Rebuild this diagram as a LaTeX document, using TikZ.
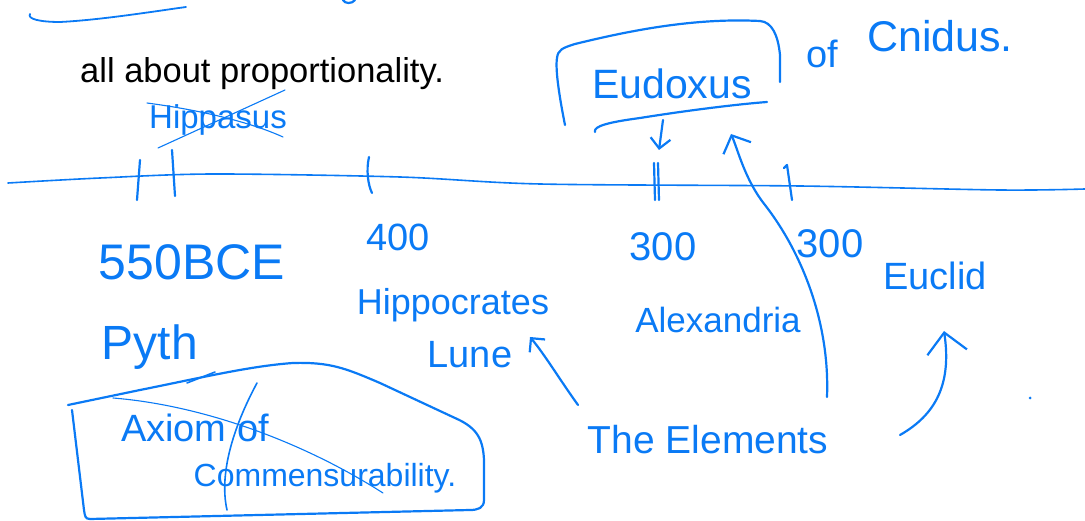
\documentclass[tikz,border=0pt]{standalone}
\usepackage{fontspec}
\setmainfont{Liberation Sans}
\usetikzlibrary{arrows.meta}
\definecolor{inkblue}{HTML}{0A7AF5}
\newcommand{\hwsize}[1]{\fontsize{#1}{#1}\selectfont}
\begin{document}
\begin{tikzpicture}[x=1pt,y=-1pt,
  ink/.style={draw=inkblue,line width=2.2pt,line cap=round,line join=round},
  thinink/.style={draw=inkblue,line width=1.1pt,line cap=round},
  hw/.style={text=inkblue,inner sep=0pt,anchor=center},
  barbS/.style={-{Straight Barb[length=10pt,width=20pt,line width=2.2pt]}},
  barbL/.style={-{Straight Barb[length=20pt,width=40pt,line width=2.2pt]}}
]
\useasboundingbox (0,0) rectangle (1085,521);

% stray strokes at the top
\draw[ink,line width=1.8pt] (30,14) .. controls (27,19) and (40,22) .. (60,22) .. controls (100,20) and (150,12) .. (186,7);
\draw[ink] (343,0) .. controls (345,4) and (352,4) .. (355,0);

% printed text
\node[font=\hwsize{34.5},anchor=base west,inner sep=0pt] (title) at (80,83) {all about proportionality.};

% crossed-out Hippasus
\node[hw,font=\hwsize{33}] (hippasus) at (218,120) {Hippasus};
\draw[thinink] (158,148) -- (285,90);
\draw[thinink] (147,103) .. controls (200,110) and (250,122) .. (283,137);

% timeline
\draw[ink,line width=1.6pt] plot[smooth] coordinates {(8,183) (100,178) (213,174) (400,177) (540,184) (800,186) (1000,190) (1085,189)};

% ticks
\coordinate (tickA) at (140,160);
\coordinate (tickB) at (172,150);
\coordinate (tickC) at (369,157);
\coordinate (tickE) at (659,150);
\coordinate (tickF) at (787,165);
\draw[ink] (tickA) -- (137,200);
\draw[ink] (tickB) -- (175,196);
\draw[ink] (tickC) .. controls (366,170) and (368,185) .. (372,193);
\draw[ink] (654,163) -- (655,200);
\draw[ink] (658,163) -- (659,200);
\draw[ink] (784,168) -- (tickF) -- (792,200);

% handwritten labels
\node[hw,font=\hwsize{50}] (bce) at (192,262) {550BCE};
\node[hw,font=\hwsize{48}] (pyth) at (150,347) {Pyth};
\node[hw,font=\hwsize{38}] (y400) at (398,237) {400};
\node[hw,font=\hwsize{36}] (hippocrates) at (453,305) {Hippocrates};
\node[hw,font=\hwsize{38}] (lune) at (470,355) {Lune};
\node[hw,font=\hwsize{40}] (y300a) at (663,247) {300};
\node[hw,font=\hwsize{40}] (y300b) at (830,244) {300};
\node[hw,font=\hwsize{35}] (alex) at (718,320) {Alexandria};
\node[hw,font=\hwsize{38}] (euclid) at (935,276) {Euclid};
\node[hw,font=\hwsize{39}] (elements) at (708,440) {The Elements};
\node[hw,font=\hwsize{41}] (eudoxus) at (672,84) {Eudoxus};
\node[hw,font=\hwsize{38}] (of) at (822,54) {of};
\node[hw,font=\hwsize{43}] (cnidus) at (940,36) {Cnidus.};
\node[hw,font=\hwsize{38}] (axiom) at (195,428) {Axiom of};
\node[hw,font=\hwsize{32}] (commens) at (325,478) {Commensurability.};

% Eudoxus frame and underline
\draw[ink] (565,125) .. controls (560,100) and (555,70) .. (557,58) .. controls (558,50) and (562,48) .. (575,44) .. controls (640,28) and (700,18) .. (760,21) .. controls (772,22) and (778,35) .. (780,55) -- (780,82);
\draw[ink] (595,132) .. controls (593,126) and (610,122) .. (640,118) .. controls (690,110) and (740,104) .. (767,102);

% Axiom frame, strike-through and slash
\draw[ink] (68,405) -- (140,390) .. controls (200,378) and (250,366) .. (293,363) .. controls (330,362) and (345,368) .. (380,383) -- (455,418) .. controls (478,428) and (483,440) .. (484,460) -- (484,500) .. controls (484,508) and (478,510) .. (470,510) -- (90,519) .. controls (85,519) and (85,516) .. (84,510) -- (72,410);
\draw[ink,line width=1.6pt] (187,383) -- (215,372);
\draw[thinink] (113,398) .. controls (200,405) and (300,440) .. (383,493);
\draw[ink,line width=1.6pt] (257,383) .. controls (237,420) and (218,470) .. (227,510);

% connectors
\coordinate (elemL) at (578,405);
\coordinate (elemM) at (827,397);
\coordinate (elemR) at (900,435);
\coordinate (luneTip) at (530,337);
\coordinate (eudTip) at (731,134);
\coordinate (euclidTip) at (944,331);
\coordinate (eudStart) at (663,120);
\draw[ink,barbS] (eudStart) -- (tickE);
\draw[ink,barbS] (elemL) .. controls (560,380) and (545,355) .. (luneTip);
\draw[ink,-{Straight Barb[length=14pt,width=30pt,line width=2.2pt]}] (elemM) .. controls (830,320) and (800,250) .. (765,205) .. controls (745,180) and (738,150) .. (eudTip);
\draw[ink,barbL] (elemR) .. controls (935,415) and (952,385) .. (euclidTip);

% stray dot
\fill[inkblue] (1030,398) circle (1.5pt);
\end{tikzpicture}
\end{document}
